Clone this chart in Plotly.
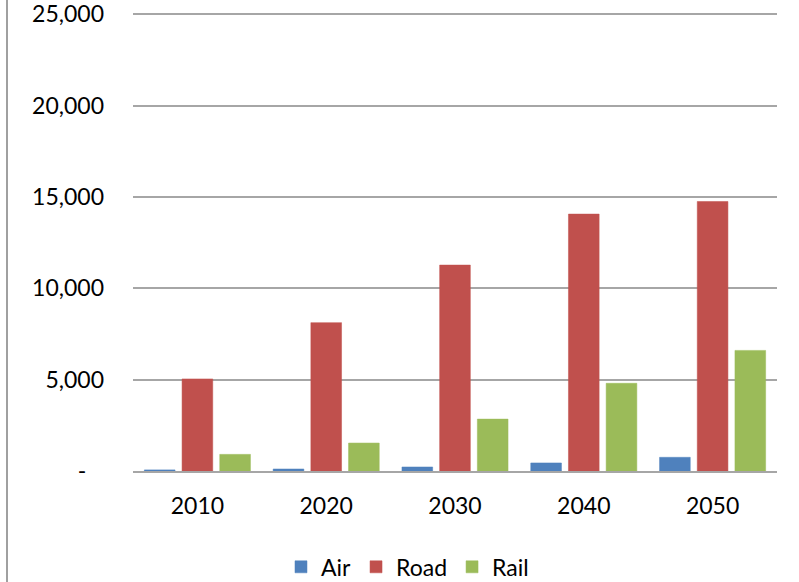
import plotly.graph_objects as go

# Passenger demand by mode and year
years = ["2010", "2020", "2030", "2040", "2050"]
air = [60, 110, 220, 440, 750]
road = [5040, 8120, 11270, 14060, 14750]
rail = [910, 1530, 2840, 4800, 6600]

y_ticks = [0, 5000, 10000, 15000, 20000, 25000]
y_tick_text = ["-\u00a0\u00a0\u00a0", "5,000", "10,000", "15,000", "20,000", "25,000"]
y_max = 25120  # small headroom so the top gridline is drawn

font_family = "Lato, 'Open Sans', sans-serif"

fig = go.Figure()
for name, vals, color in [
    ("Air", air, "#4F81BD"),
    ("Road", road, "#C0504D"),
    ("Rail", rail, "#9BBB59"),
]:
    fig.add_trace(go.Bar(
        x=years, y=vals, name=name,
        marker=dict(color=color, line=dict(color=color, width=0.5)),
    ))

W, H = 799, 582
left, right, top, bottom = 133, 22, 12, 111
plot_w = W - left - right
plot_h = H - top - bottom

fig.update_layout(
    width=W, height=H,
    margin=dict(l=left, r=right, t=top, b=bottom, autoexpand=False),
    paper_bgcolor="white", plot_bgcolor="white",
    font=dict(family=font_family, size=23, color="#000000"),
    barmode="group", bargap=0.122, bargroupgap=0.186,
    showlegend=True,
    legend=dict(
        orientation="h", xref="container", yref="container",
        x=0.51, xanchor="center", y=0.026, yanchor="middle",
        font=dict(size=23), itemwidth=30, tracegroupgap=0,
    ),
    xaxis=dict(
        showgrid=False, showline=True, linecolor="#a6a6a6", linewidth=1.5,
        ticks="", ticklabelstandoff=14,
    ),
    yaxis=dict(
        range=[0, y_max], tickvals=y_ticks, ticktext=y_tick_text,
        showgrid=True, gridcolor="#a6a6a6", gridwidth=1.5,
        zeroline=False, showline=False, ticks="", ticklabelstandoff=28,
        ticklabeloverflow="allow",
    ),
    shapes=[dict(
        type="line", xref="paper", yref="paper",
        x0=(7 - left) / plot_w, x1=(7 - left) / plot_w,
        y0=-bottom / plot_h, y1=1 + top / plot_h,
        line=dict(color="#a0a0a0", width=2),
    )],
)

fig.write_html("out.html")
